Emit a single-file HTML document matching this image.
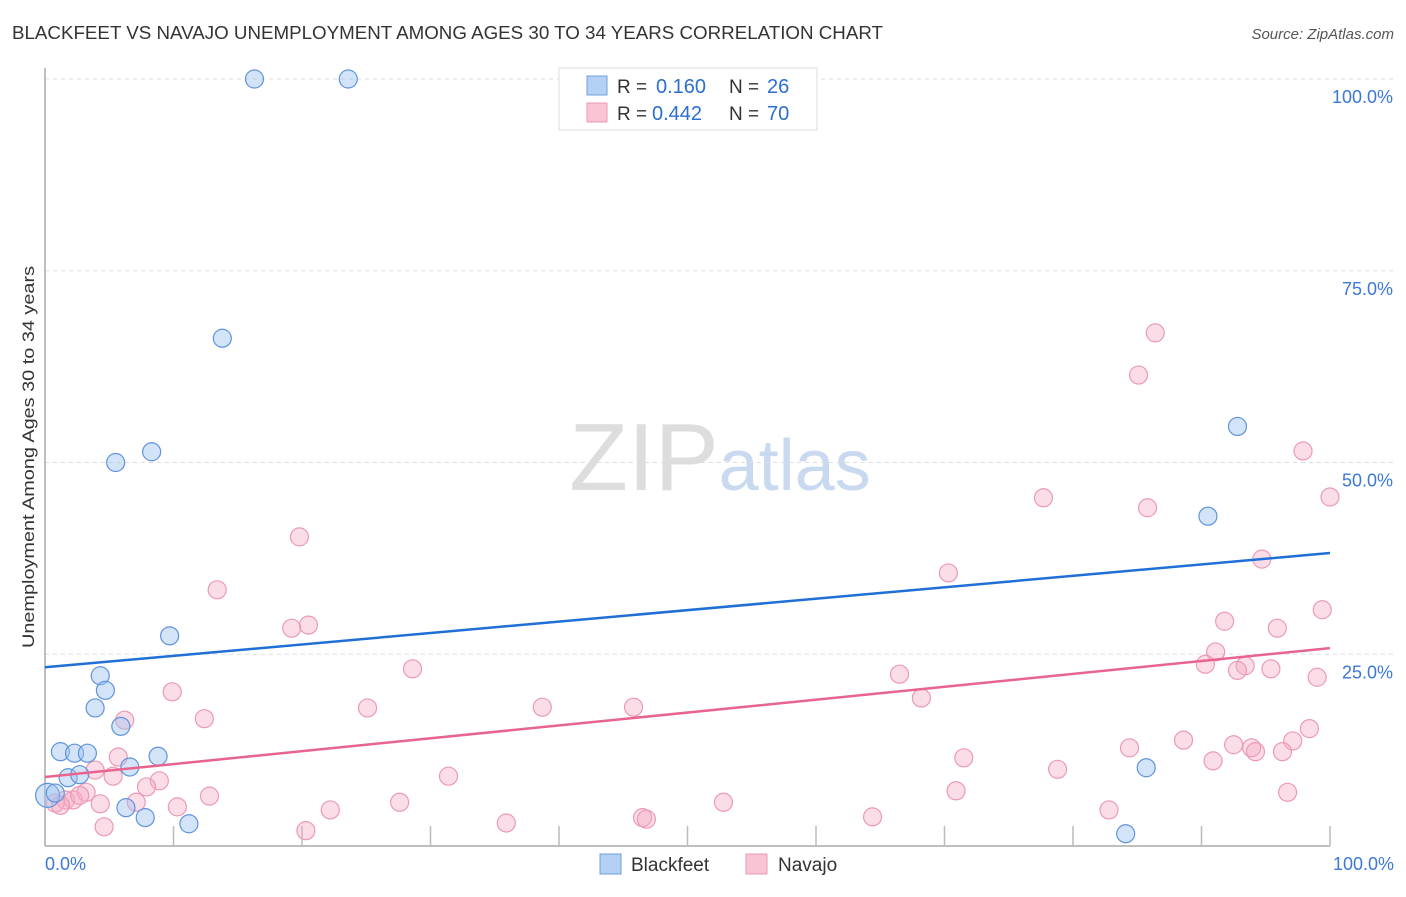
<!DOCTYPE html>
<html><head><meta charset="utf-8"><style>
body{margin:0;background:#fff;font-family:"Liberation Sans",sans-serif}
svg text{font-family:"Liberation Sans",sans-serif}
</style></head><body>
<svg id="chart" width="1406" height="892" viewBox="0 0 1406 892" xmlns="http://www.w3.org/2000/svg">
<text x="12" y="39" font-size="18" fill="#333" textLength="871" lengthAdjust="spacingAndGlyphs">BLACKFEET VS NAVAJO UNEMPLOYMENT AMONG AGES 30 TO 34 YEARS CORRELATION CHART</text>
<text x="1394" y="39" font-size="15" fill="#555" text-anchor="end" font-style="italic">Source: ZipAtlas.com</text>
<text x="720" y="490" font-size="96" text-anchor="middle" fill="#ddd" font-family="Liberation Serif">ZIP<tspan fill="#c9d9f0" font-family="Liberation Sans" font-size="72">atlas</tspan></text>
<g id="grid"></g>
<line x1="45" y1="68" x2="45" y2="846" stroke="#aaa" stroke-width="1.5"/>
<line x1="45" y1="846" x2="1330" y2="846" stroke="#aaa" stroke-width="1.5"/>
<g id="ticks"></g>
<text transform="translate(34,457) rotate(-90)" font-size="17" fill="#333" text-anchor="middle" textLength="382" lengthAdjust="spacingAndGlyphs">Unemployment Among Ages 30 to 34 years</text>
<text x="45" y="870" font-size="18" fill="#3b78d8">0.0%</text>
<text x="1394" y="870" font-size="18" fill="#3b78d8" text-anchor="end">100.0%</text>
<g id="points"></g>
<g id="lines"></g>
<g>
<rect x="559" y="68" width="258" height="62" fill="#fff" stroke="#ddd"/>
<rect x="587" y="76" width="20" height="19" fill="#b5d0f5" stroke="#6f9fe0"/>
<rect x="587" y="103" width="20" height="19" fill="#f9c4d4" stroke="#ec9ab4"/>
<text x="617" y="93" font-size="19" fill="#333">R =</text>
<text x="656" y="93" font-size="20" fill="#2b6fd0">0.160</text>
<text x="729" y="93" font-size="19" fill="#333">N =</text>
<text x="767" y="93" font-size="20" fill="#2b6fd0">26</text>
<text x="617" y="120" font-size="19" fill="#333">R =</text>
<text x="652" y="120" font-size="20" fill="#2b6fd0">0.442</text>
<text x="729" y="120" font-size="19" fill="#333">N =</text>
<text x="767" y="120" font-size="20" fill="#2b6fd0">70</text>
</g>
<g>
<rect x="600" y="854" width="21" height="20" fill="#b5d0f5" stroke="#6f9fe0"/>
<text x="631" y="871" font-size="19" fill="#333">Blackfeet</text>
<rect x="746" y="854" width="21" height="20" fill="#f9c4d4" stroke="#ec9ab4"/>
<text x="778" y="871" font-size="19" fill="#333">Navajo</text>
</g>
</svg>
<script>
const yTicks=[25,50,75,100];
const yTickLabels=["25.0%","50.0%","75.0%","100.0%"];
const xTicks=[10,20,30,40,50,60,70,80,90,100];
const bfX=[16.3,23.6,13.8,5.5,8.3,92.8,90.5,9.7,4.3,4.7,3.9,5.9,1.2,2.3,3.3,8.8,6.6,1.8,2.7,6.3,7.8,11.2,85.7,84.1,0.2,0.8];
const bfY=[100,100,66.2,50.0,51.4,54.7,43.0,27.4,22.2,20.3,18.0,15.6,12.3,12.1,12.1,11.7,10.3,8.9,9.3,5.0,3.7,2.9,10.2,1.6,6.6,6.9];
const nvX=[86.4,85.1,97.9,100,77.7,85.8,19.8,94.7,70.3,13.4,99.4,20.5,19.2,91.8,95.9,91.1,90.3,93.4,92.8,95.4,66.5,99.0,28.6,9.9,68.2,25.1,38.7,45.8,12.4,6.2,98.4,88.6,84.4,92.5,93.9,97.1,94.2,96.3,71.5,5.7,90.9,78.8,3.9,31.4,5.3,8.9,7.9,70.9,96.7,12.8,3.2,1.6,4.3,7.1,10.3,27.6,52.8,22.2,82.8,0.8,46.5,46.8,64.4,35.9,4.6,20.3,2.2,2.7,1.2];
const nvY=[66.9,61.4,51.5,45.5,45.4,44.1,40.3,37.4,35.6,33.4,30.8,28.8,28.4,29.3,28.4,25.3,23.7,23.5,22.9,23.1,22.4,22.0,23.1,20.1,19.3,18.0,18.1,18.1,16.6,16.4,15.3,13.8,12.8,13.2,12.8,13.7,12.3,12.3,11.5,11.6,11.1,10.0,9.9,9.1,9.1,8.5,7.7,7.2,7.0,6.5,7.0,6.0,5.5,5.7,5.1,5.7,5.7,4.7,4.7,5.6,3.7,3.5,3.8,3.0,2.5,2.0,6.0,6.6,5.3];
const bfTrend=[23.3,38.2];
const nvTrend=[9.0,25.8];
const NS="http://www.w3.org/2000/svg";
const sx=v=>45+v*12.85;
const sy=v=>846-v*7.67;
function mk(tag,attrs,parent){const e=document.createElementNS(NS,tag);for(const k in attrs)e.setAttribute(k,attrs[k]);document.getElementById(parent).appendChild(e);return e;}
yTicks.forEach((t,i)=>{
 const g=mk('line',{x1:45,x2:1393,y1:sy(t),y2:sy(t),stroke:'#ddd','stroke-dasharray':'4,4'},'grid');
 
 
 const l=mk('text',{x:1393,y:sy(t)+24,'font-size':18,fill:'#3b78d8','text-anchor':'end'},'grid');
 l.textContent=yTickLabels[i];
 
 
});
xTicks.forEach(t=>{
 const k=mk('line',{x1:sx(t),x2:sx(t),y1:826,y2:846,stroke:'#bbb','stroke-width':1.5},'ticks');
 
 
});
nvX.forEach((x,i)=>{
 const c=mk('circle',{cx:sx(x),cy:sy(nvY[i]),r:9,fill:'rgba(245,170,195,0.4)',stroke:'#ec9ab4','stroke-width':1.2},'points');
 
 
});
bfX.forEach((x,i)=>{
 const c=mk('circle',{cx:sx(x),cy:sy(bfY[i]),r:(i===24?12:9),fill:'rgba(160,196,240,0.45)',stroke:'#5f93dc','stroke-width':1.2},'points');
 
 
});
const bl=mk('line',{x1:sx(0),y1:sy(bfTrend[0]),x2:sx(100),y2:sy(bfTrend[1]),stroke:'#1f6fd6','stroke-width':2.5},'lines');


const nl=mk('line',{x1:sx(0),y1:sy(nvTrend[0]),x2:sx(100),y2:sy(nvTrend[1]),stroke:'#e8648f','stroke-width':2.5},'lines');


</script>
</body></html>
